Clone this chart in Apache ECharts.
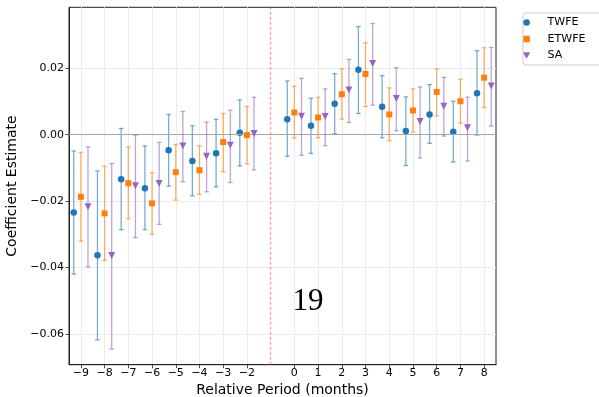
<!DOCTYPE html>
<html>
<head>
<meta charset="utf-8">
<script src="https://cdn.jsdelivr.net/npm/echarts@6/dist/echarts.min.js"></script>
<style>
html,body{margin:0;padding:0;background:#fff;}
#chart{width:599px;height:397px;}
</style>
</head>
<body>
<div id="chart"></div>
<script>
// ---- data ----
const periods = [-9,-8,-7,-6,-5,-4,-3,-2,0,1,2,3,4,5,6,7,8];
const yTicks = [-0.06,-0.04,-0.02,0,0.02];

const twfe   = [-0.0234,-0.0363,-0.0134,-0.0161,-0.0047,-0.0079,-0.0056,0.0006, 0.0047,0.0027,0.0093,0.0196,0.0084,0.0011,0.0061,0.0009,0.0125];
const twfeLo = [-0.0420,-0.0618,-0.0286,-0.0286,-0.0155,-0.0184,-0.0157,-0.0094, -0.0065,-0.0056,0.0003,0.0064,-0.0009,-0.0093,-0.0026,-0.0082,-0.0001];
const twfeHi = [-0.0049,-0.0109,0.0019,-0.0034,0.0061,0.0027,0.0047,0.0105, 0.0162,0.0110,0.0184,0.0326,0.0178,0.0114,0.0151,0.0101,0.0253];

const etwfe   = [-0.0187,-0.0237,-0.0146,-0.0207,-0.0113,-0.0107,-0.0022,-0.0001, 0.0067,0.0052,0.0122,0.0183,0.0061,0.0073,0.0129,0.0101,0.0172];
const etwfeLo = [-0.0321,-0.0379,-0.0253,-0.0300,-0.0197,-0.0180,-0.0111,-0.0088, -0.0010,-0.0009,0.0047,0.0085,-0.0018,0.0008,0.0057,0.0035,0.0082];
const etwfeHi = [-0.0053,-0.0095,-0.0037,-0.0114,-0.0029,-0.0033,0.0064,0.0085, 0.0146,0.0113,0.0199,0.0277,0.0141,0.0138,0.0199,0.0167,0.0262];

const sa   = [-0.0217,-0.0364,-0.0154,-0.0147,-0.0034,-0.0065,-0.0032,0.0004, 0.0056,0.0055,0.0135,0.0215,0.0109,0.0040,0.0086,0.0021,0.0147];
const saLo = [-0.0398,-0.0646,-0.0310,-0.0270,-0.0142,-0.0172,-0.0144,-0.0106, -0.0062,-0.0033,0.0037,0.0089,0.0012,-0.0070,-0.0004,-0.0079,0.0026];
const saHi = [-0.0037,-0.0087,-0.0001,-0.0023,0.0070,0.0038,0.0074,0.0113, 0.0170,0.0138,0.0227,0.0335,0.0202,0.0144,0.0173,0.0113,0.0263];

const treatLine = -1;
const annotation = '19';

// ---- styling / layout ----
const FONT = 'DejaVu Sans';
const OFFSET = 0.3;
const defs = [
  {name:'TWFE',  color:'#1f77b4', pt:twfe,  lo:twfeLo,  hi:twfeHi,  off:-OFFSET, symbol:'circle',   size:6.5, rot:0},
  {name:'ETWFE', color:'#ff7f0e', pt:etwfe, lo:etwfeLo, hi:etwfeHi, off:0,       symbol:'rect',     size:6,   rot:0},
  {name:'SA',    color:'#9467bd', pt:sa,    lo:saLo,    hi:saHi,    off:OFFSET,  symbol:'triangle', size:7,   rot:180}
];
const fmtMinus = v => String(v).replace('-', '\u2212');

const series = [];
defs.forEach((d, si) => {
  series.push({
    type:'custom',
    name:d.name + ' CI',
    silent:true,
    z:2 + si*2,
    data: periods.map((p,i)=>[p + d.off, d.lo[i], d.hi[i]]),
    encode:{x:0, y:[1,2]},
    renderItem:(params, api) => {
      const x = api.value(0);
      const a = api.coord([x, api.value(1)]);
      const b = api.coord([x, api.value(2)]);
      const cw = 2.3;
      const st = {stroke:d.color, lineWidth:1.3, opacity:0.6};
      return {type:'group', children:[
        {type:'line', shape:{x1:a[0],y1:a[1],x2:b[0],y2:b[1]}, style:st},
        {type:'line', shape:{x1:a[0]-cw,y1:a[1],x2:a[0]+cw,y2:a[1]}, style:st},
        {type:'line', shape:{x1:b[0]-cw,y1:b[1],x2:b[0]+cw,y2:b[1]}, style:st}
      ]};
    }
  });
  const sc = {
    type:'scatter',
    name:d.name,
    z:3 + si*2,
    symbol:d.symbol,
    symbolSize:d.size,
    symbolRotate:d.rot,
    itemStyle:{color:d.color, opacity:1},
    data: periods.map((p,i)=>[p + d.off, d.pt[i]])
  };
  if (si === 0) {
    sc.markLine = {
      silent:true, symbol:'none', animation:false,
      label:{show:false},
      data:[
        {yAxis:0, lineStyle:{color:'#a8a8a8', width:1.2, type:'solid'}},
        {xAxis:treatLine, lineStyle:{color:'rgba(255,70,70,0.5)', width:1.4, type:[3,2]}}
      ]
    };
  }
  series.push(sc);
});

const chart = echarts.init(document.getElementById('chart'), null, {renderer:'canvas'});
chart.setOption({
  animation:false,
  backgroundColor:'#ffffff',
  textStyle:{fontFamily:FONT},
  grid:{left:69, right:103, top:7.3, bottom:32.3, show:true, borderColor:'#222', borderWidth:1, outerBoundsMode:'none'},
  xAxis:{
    type:'value', min:-9.5, max:8.5,
    name:'Relative Period (months)', nameLocation:'middle', nameGap:16,
    nameTextStyle:{fontFamily:FONT, fontSize:14, color:'#000'},
    axisLine:{show:true, onZero:false, lineStyle:{color:'#222', width:1}},
    axisTick:{show:true, length:3.5, customValues:periods, lineStyle:{color:'#222', width:0.8}},
    axisLabel:{customValues:periods, fontFamily:FONT, fontSize:11, color:'#000', margin:3, formatter:v=>fmtMinus(v)},
    splitLine:{show:true, lineStyle:{color:'#ebebeb', width:1}}
  },
  yAxis:{
    type:'value', min:-0.0693, max:0.0384,
    name:'Coefficient Estimate', nameLocation:'middle', nameGap:31,
    nameTextStyle:{fontFamily:FONT, fontSize:14, color:'#000'},
    axisLine:{show:true, onZero:false, lineStyle:{color:'#222', width:1}},
    axisTick:{show:true, length:3.5, customValues:yTicks, lineStyle:{color:'#222', width:0.8}},
    axisLabel:{customValues:yTicks, fontFamily:FONT, fontSize:11, color:'#000', margin:5, formatter:v=>fmtMinus(Number(v).toFixed(2))},
    splitLine:{show:true, lineStyle:{color:'#ebebeb', width:1}}
  },
  legend:{
    orient:'vertical', left:523, top:13,
    padding:[3,20,3,0], itemGap:3.5, itemWidth:32, itemHeight:6.5,
    backgroundColor:'rgba(255,255,255,0.9)', borderColor:'#cccccc', borderWidth:1, borderRadius:3,
    textStyle:{fontFamily:FONT, fontSize:11, color:'#000', lineHeight:13},
    data:[
      {name:'TWFE', icon:'circle'},
      {name:'ETWFE', icon:'path://M0,0 L10,0 L10,10 L0,10 Z'},
      {name:'SA', icon:'path://M0,0 L10,0 L5,9 Z'}
    ]
  },
  graphic:[{
    type:'text', x:308, y:302, z:100, silent:true,
    style:{text:annotation, font:'31px "Liberation Serif"', fill:'#000', align:'center', verticalAlign:'middle'}
  }],
  series:series
});
</script>
</body>
</html>
